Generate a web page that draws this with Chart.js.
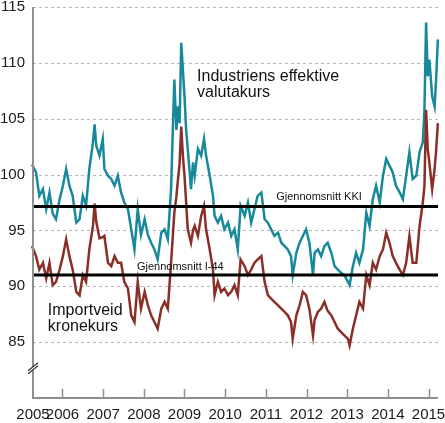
<!DOCTYPE html>
<html>
<head>
<meta charset="utf-8">
<script src="https://cdn.jsdelivr.net/npm/chart.js@4/dist/chart.umd.min.js"></script>
<style>
html,body{margin:0;padding:0;background:#fff;}
#wrap{width:445px;height:423px;}
</style>
</head>
<body>
<div id="wrap"><canvas id="c" width="445" height="423"></canvas></div>
<script>
// ---- data (decimal years, index values) ----
const dates = [
2005.25,2005.35,2005.43,2005.52,2005.60,2005.68,2005.76,2005.84,2005.93,2006.01,
2006.09,2006.17,2006.25,2006.34,2006.42,2006.50,2006.58,2006.66,2006.75,2006.79,
2006.83,2006.91,2006.99,2007.03,2007.12,2007.20,2007.28,2007.36,2007.44,2007.52,
2007.61,2007.69,2007.77,2007.85,2007.93,2008.02,2008.10,2008.18,2008.26,2008.34,
2008.43,2008.51,2008.59,2008.67,2008.75,2008.80,2008.84,2008.88,2008.92,2008.96,
2009.00,2009.04,2009.08,2009.12,2009.16,2009.21,2009.25,2009.33,2009.41,2009.48,
2009.53,2009.62,2009.70,2009.74,2009.82,2009.90,2009.98,2010.07,2010.15,2010.23,
2010.31,2010.38,2010.48,2010.56,2010.64,2010.72,2010.80,2010.89,2010.97,2011.05,
2011.13,2011.21,2011.30,2011.38,2011.46,2011.54,2011.62,2011.66,2011.75,2011.83,
2011.91,2011.99,2012.07,2012.16,2012.20,2012.28,2012.36,2012.44,2012.52,2012.61,
2012.69,2012.77,2012.85,2012.93,2013.02,2013.06,2013.14,2013.22,2013.30,2013.39,
2013.47,2013.55,2013.63,2013.71,2013.80,2013.88,2013.96,2014.04,2014.12,2014.20,
2014.29,2014.37,2014.45,2014.53,2014.61,2014.70,2014.78,2014.86,2014.90,2014.94,
2014.98,2015.02,2015.09,2015.15,2015.19,2015.23
];
const industriensValutakurs = [
100.9,100.2,98.1,98.7,96.9,98.4,96.5,96.0,97.8,99.0,
100.5,99.0,98.1,95.7,96.0,98.1,97.2,100.5,102.9,104.5,
102.6,101.7,103.2,100.5,99.9,99.6,99.0,99.9,98.4,97.5,
96.9,95.1,93.3,96.9,94.6,96.0,94.6,93.9,93.3,92.4,
94.8,95.1,94.2,98.7,108.5,104.0,106.1,104.6,111.8,109.4,
107.0,104.0,102.3,100.5,98.7,101.1,99.9,102.3,101.7,103.2,
101.7,99.9,98.1,96.3,95.7,96.3,95.1,95.7,94.5,95.1,
93.3,97.2,96.3,97.5,95.7,96.9,98.1,98.4,96.0,95.7,
95.1,94.5,94.8,93.9,93.6,93.3,92.7,91.0,93.0,93.9,
94.5,95.1,93.9,91.0,93.0,93.3,92.7,93.6,93.9,93.0,
91.8,91.5,91.2,91.0,90.4,90.1,91.8,93.0,92.1,93.3,
96.6,95.4,97.8,99.0,97.5,99.9,101.4,100.8,100.2,99.0,
98.4,97.8,99.9,102.0,99.6,99.9,102.0,102.9,105.8,113.6,
108.8,110.3,107.0,106.1,108.8,112.1
];
const importveidKronekurs = [
93.6,92.7,91.5,92.1,90.7,92.1,90.1,90.4,91.5,92.7,
94.2,92.7,91.5,89.5,89.2,91.0,90.4,93.3,95.4,97.4,
95.8,94.3,94.4,94.5,92.1,91.8,92.7,92.1,92.1,90.4,
89.8,87.4,86.8,90.4,88.0,89.5,88.3,87.4,86.8,86.2,
88.0,88.6,88.0,92.1,96.6,98.0,99.6,101.0,104.3,101.7,
99.9,97.5,95.1,94.5,93.9,95.0,95.4,94.5,96.3,97.2,
95.1,93.3,91.5,89.2,90.4,89.5,89.8,89.2,89.5,90.1,
89.2,92.4,91.8,91.0,91.5,92.1,92.4,92.7,90.4,89.2,
88.9,88.6,88.3,88.0,87.7,87.4,86.8,85.3,87.4,88.3,
89.5,89.2,88.0,85.6,87.0,87.7,88.0,88.6,87.8,87.4,
86.8,86.2,85.9,85.6,85.3,84.7,86.2,87.4,88.6,88.0,
91.0,90.1,92.1,91.5,92.7,93.3,94.8,93.9,92.7,92.1,
91.5,91.0,92.1,94.5,92.1,92.1,95.4,97.5,99.0,105.8,
102.3,101.1,98.7,100.5,102.3,104.6
];
const gjennomsnittKKI = 97.15;
const gjennomsnittI44 = 91.0;
const yTicks = [85, 90, 95, 100, 105, 110, 115];
const xTickYears = [2006, 2007, 2008, 2009, 2010, 2011, 2012, 2013, 2014, 2015];
const firstYearLabel = '2005';
const X_MIN = 2005.275, X_MAX = 2015.233, Y_MIN = 80, Y_MAX = 115, Y_BREAK = 82.8;

const TEAL = '#17899a';
const BROWN = '#8a2f27';
const FONT = '"Liberation Sans", Arial, sans-serif';

// annotations anchored in data coordinates
const notes = [
  {lines:['Industriens effektive','valutakurs'], x:2009.31, y:108.38, size:16, align:'left'},
  {lines:['Importveid','kronekurs'], x:2005.64, y:87.44, size:16, align:'left'},
];

const decor = {
  id: 'decor',
  beforeDatasetsDraw(chart) {
    const {ctx, chartArea: a, scales: {y}} = chart;
    ctx.save();
    ctx.strokeStyle = '#b8b8b8';
    ctx.lineWidth = 1;
    ctx.setLineDash([3, 3]);
    yTicks.forEach(v => {
      const py = Math.round(y.getPixelForValue(v)) + 0.5;
      ctx.beginPath(); ctx.moveTo(a.left, py); ctx.lineTo(a.right, py); ctx.stroke();
    });
    ctx.restore();
  },
  afterDatasetsDraw(chart) {
    const {ctx, chartArea: a, scales: {x, y}} = chart;
    ctx.save();
    // axes
    ctx.strokeStyle = '#8f8f8f';
    ctx.lineWidth = 2;
    ctx.beginPath();
    ctx.moveTo(a.left, y.getPixelForValue(Y_MAX));
    ctx.lineTo(a.left, a.bottom);
    ctx.lineTo(a.right, a.bottom);
    ctx.stroke();
    // inward year ticks
    ctx.lineWidth = 1.5;
    xTickYears.forEach(v => {
      const px = Math.round(x.getPixelForValue(v)) + 0.5;
      ctx.beginPath(); ctx.moveTo(px, a.bottom); ctx.lineTo(px, a.bottom - 9); ctx.stroke();
    });
    // axis break
    const by = y.getPixelForValue(Y_BREAK);
    ctx.fillStyle = '#fff';
    ctx.beginPath();
    ctx.moveTo(a.left - 5, by + 4); ctx.lineTo(a.left + 5, by - 4);
    ctx.lineTo(a.left + 5, by - 1); ctx.lineTo(a.left - 5, by + 7);
    ctx.closePath(); ctx.fill();
    ctx.strokeStyle = '#333';
    ctx.lineWidth = 1.2;
    ctx.beginPath();
    ctx.moveTo(a.left - 5, by + 4); ctx.lineTo(a.left + 5, by - 4);
    ctx.moveTo(a.left - 5, by + 7); ctx.lineTo(a.left + 5, by - 1);
    ctx.stroke();
    // average labels
    ctx.fillStyle = '#111';
    ctx.font = '11px ' + FONT;
    ctx.textBaseline = 'alphabetic';
    ctx.textAlign = 'right';
    ctx.fillText('Gjennomsnitt KKI', x.getPixelForValue(2013.36), y.getPixelForValue(gjennomsnittKKI) - 6);
    ctx.textAlign = 'left';
    ctx.fillText('Gjennomsnitt I-44', x.getPixelForValue(2007.83), y.getPixelForValue(gjennomsnittI44) - 5);
    // series labels
    notes.forEach(n => {
      ctx.font = n.size + 'px ' + FONT;
      ctx.textAlign = n.align;
      const px = x.getPixelForValue(n.x);
      const py = y.getPixelForValue(n.y);
      n.lines.forEach((t, i) => ctx.fillText(t, px, py + i * 16.5));
    });
    ctx.restore();
  }
};

const pts = arr => dates.map((d, i) => ({x: d, y: arr[i]}));
const hline = v => [{x: X_MIN, y: v}, {x: X_MAX, y: v}];

new Chart(document.getElementById('c'), {
  type: 'line',
  data: {
    datasets: [
      {label: 'Industriens effektive valutakurs', data: pts(industriensValutakurs), borderColor: TEAL, borderWidth: 2.5, pointRadius: 0, tension: 0, order: 3},
      {label: 'Importveid kronekurs', data: pts(importveidKronekurs), borderColor: BROWN, borderWidth: 2.5, pointRadius: 0, tension: 0, order: 2},
      {label: 'Gjennomsnitt KKI', data: hline(gjennomsnittKKI), borderColor: '#000', borderWidth: 3, pointRadius: 0, order: 1},
      {label: 'Gjennomsnitt I-44', data: hline(gjennomsnittI44), borderColor: '#000', borderWidth: 3, pointRadius: 0, order: 1}
    ]
  },
  options: {
    responsive: false,
    animation: false,
    devicePixelRatio: 1,
    clip: false,
    layout: {padding: {top: 7, right: 7, left: 0, bottom: 0}},
    plugins: {legend: {display: false}, tooltip: {enabled: false}},
    scales: {
      x: {
        type: 'linear', min: X_MIN, max: X_MAX,
        grid: {display: false, drawTicks: false},
        border: {display: false},
        afterBuildTicks: s => { s.ticks = [{value: X_MIN}].concat(xTickYears.map(v => ({value: v}))); },
        ticks: {
          autoSkip: false, maxRotation: 0, padding: 8, color: '#1a1a1a',
          font: {size: 15, family: FONT},
          callback: v => (v === X_MIN ? firstYearLabel : String(v))
        },
        afterFit: s => { s.height = 25; s.paddingLeft = 0; s.paddingRight = 0; }
      },
      y: {
        min: Y_MIN, max: Y_MAX,
        grid: {display: false, drawTicks: false},
        border: {display: false},
        afterBuildTicks: s => { s.ticks = yTicks.map(v => ({value: v})); },
        ticks: {padding: 8, color: '#1a1a1a', font: {size: 15, family: FONT}},
        afterFit: s => { s.width = 33; s.paddingTop = 0; s.paddingBottom = 0; }
      }
    }
  },
  plugins: [decor]
});
</script>
</body>
</html>
